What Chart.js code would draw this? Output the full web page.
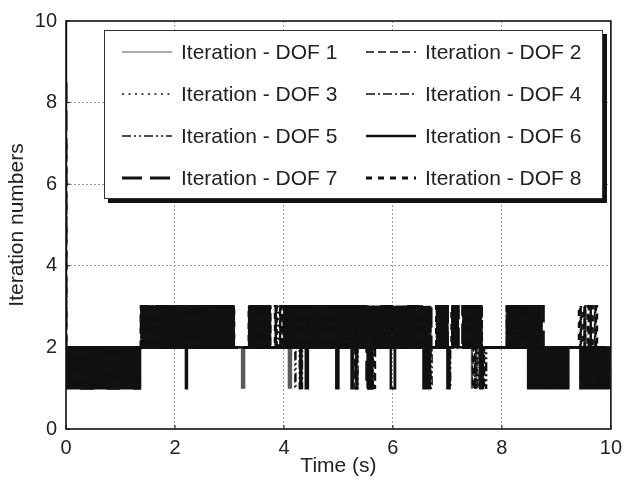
<!DOCTYPE html>
<html>
<head>
<meta charset="utf-8">
<script src="https://cdn.jsdelivr.net/npm/chart.js@4/dist/chart.umd.min.js"></script>
<style>
  html, body { margin: 0; padding: 0; background: #fff; }
  #wrap { width: 629px; height: 491px; }
</style>
</head>
<body>
<div id="wrap"><canvas id="c" width="629" height="491"></canvas></div>
<script>
// Sampling step of the iteration records (s)
const timeStep = 0.02;
const xTicks = [0, 2, 4, 6, 8, 10];
const yTicks = [0, 2, 4, 6, 8, 10];
const seriesLabels = [
  'Iteration - DOF 1', 'Iteration - DOF 2', 'Iteration - DOF 3', 'Iteration - DOF 4',
  'Iteration - DOF 5', 'Iteration - DOF 6', 'Iteration - DOF 7', 'Iteration - DOF 8'
];
// Iteration count needed at the very first step (t = 0)
const startValues = [9.6, 9, 8.6, 8, 7.6, 10, 8.5, 7];

// Iteration counts per step, one line per second, groups of 10 steps (0.2 s)
const dof1 = `
1212121212 1212121212 1212121212 1212121212 1212121212
1212121212 1212121223 2323232323 2323232323 2323232323
3232323232 3232323232 3232323232 3232323232 3232323232
2323222222 2121222232 3232323232 3232323222 2222222222
3232121232 3232323232 3232323232 3232323232 3232323232
3232323232 3231323232 3232323232 1232323232 3232323232
2132323232 3232323232 3232323212 3212322222 3232323232
2222323232 2222323232 3212321232 3212222222 2222222222
2222323232 3232323232 3232313131 3131313212 1212121212
1212121212 1222222222 2212121212 1212121212 1212121212
2`;
const dof2 = `
2121212121 2121212121 2121212121 2121212121 2121212121
2121212121 2121212123 3232323232 3232323232 3232323232
2323232323 2323232323 2323232323 2323232323 2323232323
3232222222 2222222223 2323232323 2323232322 2232223222
2323232323 2323232323 2123232323 2323232323 2323232323
2323232323 2323212323 2323232323 2321232323 2323232323
2323232323 2323232323 2323232321 2321222222 2323232323
2222232323 2222232323 2321212323 2321222222 2222222222
2222232323 2323232323 2323212121 2121212222 1212121212
2121212121 2222222222 2232223222 2322232222 2212121212
2`;
const dof3 = `
1122112211 2211221122 1122112211 2211221122 1122112211
2211221122 1122112223 3322332233 2233223322 3322332233
2233223322 3322332233 2233223322 3322332233 2233223322
3322222222 2222222233 2233223322 3322332222 2222322222
3322332233 2233223322 3322332233 2233223322 3322332233
2233223322 3322332233 2233223322 3322332233 2233223322
3322332233 2233223322 3322332233 2233222222 3322332233
2222332233 2222332233 2233223322 3322222222 2222222222
2222223322 3322332233 2233223311 2211221222 2222222222
2222222222 2222222222 2222222222 2222222222 2222222222
2`;
const dof4 = `
1211211211 2112112112 1121121121 1211211211 2112112112
1121121121 1211211223 2332332332 3323323323 3233233233
2332332332 3323323323 3233233233 2332332332 3323323323
3233222222 2222222232 3323323323 3233233222 2222222222
3233233233 2332332332 3323323323 3233233233 2332332332
3323323323 3233233233 2332332332 3323323323 3233233233
2332332332 3323323323 3233233233 2332222222 3323323323
2222323323 2222233233 2332332332 3222222222 2222222222
2222332332 3323323323 3233233233 2332332222 2222222222
2222222222 2222222222 2222222222 2222222222 2222222222
2`;
const dof5 = `
2121121212 1121212112 1212112121 2121121212 1121212112
1212112121 2121121223 3233232323 3323232332 3232332323
2323323232 3323232332 3232332323 2323323232 3323232332
3232222222 2222222232 3232332323 2323323222 2222222222
3232323232 1232121232 1232323232 3232323232 3232323232
2323232323 2323232123 2323232121 2123232323 2323232323
2323232323 2323232323 2323232323 2123212222 2323232323
1212232323 2222323232 2323212121 2121212222 2222222222
2222232323 2323232323 2323121212 1212121212 1212121212
1212121212 1222222222 2212121212 1212121212 1212121212
2`;
const dof6 = `
2211221122 1122112211 2211221122 1122112211 2211221122
1122112211 2211221122 2323232323 3232323232 2323232323
3232323232 1232323232 3232323232 2323232323 3232323232
2323222222 2222222232 2323232323 3232323222 2222222222
2323232323 3232312323 1123232323 2323232323 3232323211
2323232323 3212323232 2323232311 2323232323 3232323211
1123232323 2323232323 3232323211 2211222222 2323232323
1122223232 2222223232 3232323232 1122222222 2222222222
2222223232 3232323232 2323112211 2211221122 1122112211
2211221122 1222222222 2211221122 1122112211 2211221122
2`;
const dof7 = `
1212121212 2121212121 1212121212 2121212121 1212121212
2121212121 1212121223 3232323232 2323232323 3232323232
2323232323 3232323232 2323232323 3232323232 2323232323
3232222222 2222222223 2323232323 3232323222 2222222222
3232323232 2323232323 3232323232 2323232323 3232323232
2323232323 3232321232 3232321212 1232323232 3232323232
2323232323 3232323232 2323232323 3232322222 2323232323
2222232323 2222323232 3232323232 3222222222 2222222222
2222232323 2323232323 3232323232 3232323322 2222222222
2222222222 2222222222 2222222222 2222222222 2222222222
2`;
const dof8 = `
2112211221 1221122112 2112211221 1221122112 2112211221
1221122112 2112211223 3223322332 2332233223 3223322332
2332233223 3223322332 2332233223 3223322332 2332233223
3223222222 2222222232 2332233223 3223322222 2232222322
3223322332 2332233223 3223322332 2332233223 3223322332
2332233223 3223322332 2332233223 3223322332 2332233223
3223322332 2332233223 3223322332 2112222222 3223322332
2222322332 2222233223 3223322332 2222222222 2222222222
2222233223 3223322332 2332233223 3223322222 2222222222
2222222222 2222222222 2322232223 2232223222 2222222222
2`;
const seriesRecords = [dof1, dof2, dof3, dof4, dof5, dof6, dof7, dof8];

// Line appearance of each DOF
const seriesStyles = [
  { color: '#5a5a5a', width: 1.2, dash: [] },
  { color: '#111', width: 1.4, dash: [8, 4] },
  { color: '#111', width: 1.6, dash: [2, 4.5] },
  { color: '#111', width: 1.4, dash: [9, 3, 2, 3] },
  { color: '#111', width: 1.4, dash: [9, 3, 2, 3, 2, 3] },
  { color: '#111', width: 2.4, dash: [] },
  { color: '#111', width: 3, dash: [20, 8] },
  { color: '#111', width: 3, dash: [6, 6] }
];

function toPoints(start, record) {
  const digits = record.replace(/\s+/g, '');
  const pts = [{ x: 0, y: start }];
  for (let j = 0; j < digits.length; j++) {
    pts.push({ x: +(j * timeStep).toFixed(2), y: +digits[j] });
  }
  return pts;
}

const datasets = seriesLabels.map((label, i) => ({
  label,
  data: toPoints(startValues[i], seriesRecords[i]),
  borderColor: seriesStyles[i].color,
  borderWidth: seriesStyles[i].width,
  borderDash: seriesStyles[i].dash,
  stepped: true,
  fill: false,
  pointRadius: 0,
  order: i === 0 ? 1 : 0
}));

const FONT = "'Liberation Sans', Arial, Helvetica, sans-serif";
const TEXT = '#222';

// Plot frame with small inward ticks
const framePlugin = {
  id: 'frame',
  afterDatasetsDraw(chart) {
    const { ctx, chartArea: a, scales } = chart;
    ctx.save();
    ctx.strokeStyle = '#111';
    ctx.lineWidth = 1;
    ctx.beginPath();
    xTicks.forEach(v => {
      const px = scales.x.getPixelForValue(v);
      ctx.moveTo(px, a.bottom); ctx.lineTo(px, a.bottom - 4);
    });
    yTicks.forEach(v => {
      const py = scales.y.getPixelForValue(v);
      ctx.moveTo(a.left, py); ctx.lineTo(a.left + 4, py);
    });
    ctx.stroke();
    ctx.lineWidth = 1.6;
    ctx.strokeRect(a.left, a.top, a.right - a.left, a.bottom - a.top);
    ctx.restore();
  }
};

// Boxed legend with drop shadow, two columns
const legendPlugin = {
  id: 'boxLegend',
  afterDraw(chart) {
    const { ctx } = chart;
    const box = { left: 104, top: 30, right: 603, bottom: 199, shadow: 4 };
    const rows = [52, 94, 136, 178];
    const cols = [{ x0: 122, x1: 172, tx: 181 }, { x0: 366, x1: 416, tx: 425 }];
    ctx.save();
    ctx.fillStyle = '#111';
    ctx.fillRect(box.left + box.shadow, box.top + box.shadow, box.right - box.left, box.bottom - box.top);
    ctx.fillStyle = '#fff';
    ctx.fillRect(box.left, box.top, box.right - box.left, box.bottom - box.top);
    ctx.strokeStyle = '#333';
    ctx.lineWidth = 1;
    ctx.strokeRect(box.left + 0.5, box.top + 0.5, box.right - box.left - 1, box.bottom - box.top - 1);
    ctx.font = '21px ' + FONT;
    ctx.textBaseline = 'middle';
    ctx.textAlign = 'left';
    chart.data.datasets.forEach((ds, i) => {
      const c = cols[i % 2];
      const y = rows[Math.floor(i / 2)];
      ctx.save();
      ctx.strokeStyle = ds.borderColor;
      ctx.lineWidth = ds.borderWidth;
      ctx.setLineDash(ds.borderDash);
      ctx.beginPath();
      ctx.moveTo(c.x0, y); ctx.lineTo(c.x1, y);
      ctx.stroke();
      ctx.restore();
      ctx.fillStyle = TEXT;
      ctx.fillText(ds.label, c.tx, y + 1);
    });
    ctx.restore();
  }
};

const gridColor = ctx => (ctx.tick && (ctx.tick.value === 0 || ctx.tick.value === 10)) ? 'rgba(0,0,0,0)' : '#9a9a9a';

new Chart(document.getElementById('c'), {
  type: 'line',
  data: { datasets },
  options: {
    responsive: false,
    animation: false,
    devicePixelRatio: 1,
    layout: { padding: { top: 17, right: 14, left: 0, bottom: 0 } },
    plugins: { legend: { display: false }, tooltip: { enabled: false } },
    scales: {
      x: {
        type: 'linear', min: 0, max: 10,
        afterBuildTicks: s => { s.ticks = xTicks.map(v => ({ value: v })); },
        afterFit: s => { s.height = 62; },
        ticks: { padding: 7, maxRotation: 0, autoSkip: false, color: TEXT, font: { family: FONT, size: 20 } },
        grid: { drawTicks: false, color: gridColor, lineWidth: 1 },
        border: { display: false, dash: [2, 2] },
        title: { display: true, text: 'Time (s)', color: TEXT, font: { family: FONT, size: 21 }, padding: { top: 0, bottom: 12 } }
      },
      y: {
        type: 'linear', min: 0, max: 10,
        afterBuildTicks: s => { s.ticks = yTicks.map(v => ({ value: v })); },
        afterFit: s => { s.width = 66; },
        ticks: { padding: 9, color: TEXT, font: { family: FONT, size: 20 } },
        grid: { drawTicks: false, color: gridColor, lineWidth: 1 },
        border: { display: false, dash: [2, 2] },
        title: { display: true, text: 'Iteration numbers', color: TEXT, font: { family: FONT, size: 21 }, padding: { top: 5, bottom: 0 } }
      }
    }
  },
  plugins: [framePlugin, legendPlugin]
});
</script>
</body>
</html>
